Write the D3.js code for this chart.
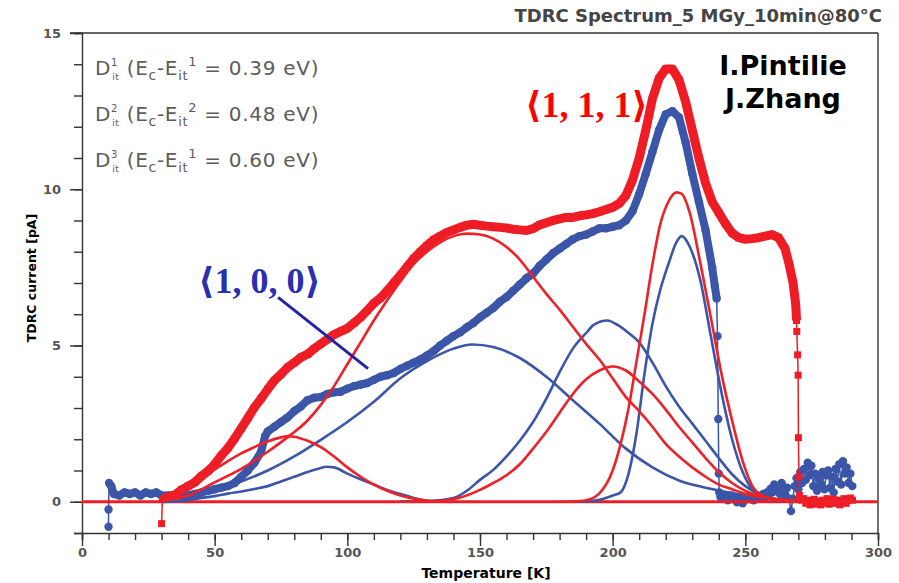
<!DOCTYPE html>
<html>
<head>
<meta charset="UTF-8">
<title>TDRC Spectrum</title>
<script src="https://cdn.jsdelivr.net/npm/d3@7"></script>
<style>
  body {margin: 0; background: #fff;}
  .axis text {font-family: "DejaVu Sans", sans-serif; font-weight: bold; font-size: 13px; fill: #555;}
  .axis line, .axis .domain {stroke: #333; stroke-width: 1.4;}
</style>
</head>
<body>
<div id="chart"></div>
<script>
//Measured TDRC spectrum, <1,1,1> sample (red squares)
var redT = [30, 30.3, 32.5, 35, 37.5, 40, 42.5, 45, 47.5, 50, 52.5, 55, 57.5, 60, 62.5, 65, 67.5, 70, 72.5, 75, 77.5, 80, 82.5, 85, 87.5, 90, 92.5, 95, 97.5, 100,
  102.5, 105, 107.5, 110, 112.5, 115, 117.5, 120, 122.5, 125, 127.5, 130, 132.5, 135, 137.5, 140, 142.5, 145, 147.5, 150, 152.5, 155, 157.5, 160, 162.5, 165, 167.5, 170,
  172.5, 175, 177.5, 180, 182.5, 185, 187.5, 190, 192.5, 195, 197.5, 200, 202.5, 205, 207.5, 210, 212.5, 215, 217.5, 220, 222.5, 225, 227.5, 230, 232.5, 235, 237.5, 240,
  242.5, 245, 247.5, 250, 252.5, 255, 257.5, 260, 262.5, 265, 266.5, 268, 269, 269.3,
  269.4, 269.7, 269.9, 270, 270.2, 270.4, 271.2, 272, 272.8, 273.6, 274.4, 275.2, 276, 276.8, 277.6, 278.4, 279.2, 280, 280.8, 281.6, 282.4, 283.2, 284, 284.8, 285.6, 286.4, 287.2, 288, 288.8, 289.6, 290.4];
var redI = [-0.7, 0.08, 0.15, 0.22, 0.38, 0.5, 0.62, 0.82, 0.98, 1.2, 1.48, 1.72, 2.02, 2.35, 2.68, 3.02, 3.3, 3.6, 3.88, 4.08, 4.3, 4.45, 4.62, 4.72, 4.9, 5.05, 5.2, 5.35, 5.45, 5.55,
  5.72, 5.9, 6.12, 6.35, 6.52, 6.75, 7.0, 7.25, 7.52, 7.78, 8.0, 8.2, 8.38, 8.5, 8.62, 8.7, 8.78, 8.85, 8.88, 8.85, 8.82, 8.8, 8.78, 8.76, 8.72, 8.7, 8.68, 8.74,
  8.86, 8.93, 9.0, 9.05, 9.1, 9.1, 9.15, 9.18, 9.22, 9.28, 9.35, 9.42, 9.55, 9.8, 10.3, 11.0, 11.9, 12.9, 13.55, 13.85, 13.85, 13.5, 12.8, 11.9, 11.0, 10.2, 9.6, 9.25,
  8.9, 8.6, 8.45, 8.4, 8.42, 8.45, 8.5, 8.55, 8.45, 8.1, 7.6, 7.0, 6.3, 5.8,
  5.45, 4.7, 4.05, 2.05, 0.8, 0.2, 0.05, 0.1, -0.05, 0.05, -0.1, 0.0, 0.08, -0.08, 0.02, -0.1, 0.05, -0.05, 0.1, -0.08, 0.0, 0.08, -0.05, 0.05, -0.1, 0.02, 0.1, -0.05, 0.05, 0.12, 0.05];
//index range of the densely sampled part of the red curve
var redDense = [1, 99];

//Measured TDRC spectrum, <1,0,0> sample (blue circles)
var blueT = [10, 10, 10.2, 11, 12, 14, 16, 18, 20, 22, 24, 26, 28, 30, 32.5, 35, 37.5, 40, 42.5, 45, 47.5, 50, 52.5, 55, 57.5, 60, 62.5, 65, 67.5, 69, 70, 72.5, 75, 77.5, 80,
  82.5, 85, 87.5, 90, 92.5, 95, 97.5, 100, 102.5, 105, 107.5, 110, 112.5, 115, 117.5, 120, 122.5, 125, 127.5, 130, 132.5, 135, 137.5, 140, 142.5, 145, 147.5, 150,
  152.5, 155, 157.5, 160, 162.5, 165, 167.5, 170, 172.5, 175, 177.5, 180, 182.5, 185, 187.5, 190, 192.5, 195, 197.5, 200, 202.5, 205, 207.5, 210, 212.5, 215, 217.5,
  220, 222.5, 225, 227.5, 230, 232.5, 235, 237.5, 238.5, 239.2,
  239.5, 239.8, 240, 240.2, 240.6, 241.3, 242, 242.7, 243.4, 244.1, 244.8, 245.5, 246.2, 246.9, 247.6, 248.3, 249, 249.7, 250.4, 251.1, 251.8, 252.5, 253.2, 253.9,
  254.6, 255.3, 256, 256.7, 257.4, 258.1, 258.8, 259.5, 260.2, 260.9, 261.6, 262.3, 263, 263.7, 264.4, 265.1, 265.8, 266.5, 267.2, 267.9, 268.6, 269.3, 270, 270.7,
  271.4, 272.1, 272.8, 273.5, 274.2, 274.9, 275.6, 276.3, 277, 277.7, 278.4, 279.1, 279.8, 280.5, 281.2, 281.9, 282.6, 283.3, 284, 284.7, 285.4, 286.1, 286.8, 287.5,
  288.2, 288.9, 289.6, 290.3];
var blueI = [-0.8, -0.25, 0.6, 0.5, 0.25, 0.2, 0.3, 0.25, 0.3, 0.2, 0.3, 0.25, 0.3, 0.2, 0.2, 0.2, 0.22, 0.2, 0.25, 0.3, 0.35, 0.4, 0.45, 0.5, 0.6, 0.8, 1.0, 1.25, 1.6, 2.1, 2.25, 2.4, 2.55, 2.7, 2.9,
  3.05, 3.25, 3.33, 3.35, 3.45, 3.5, 3.52, 3.62, 3.7, 3.75, 3.8, 3.9, 4.0, 4.05, 4.12, 4.25, 4.35, 4.45, 4.55, 4.68, 4.82, 5.0, 5.15, 5.3, 5.42, 5.58, 5.72, 5.9,
  6.05, 6.2, 6.4, 6.55, 6.75, 6.95, 7.15, 7.3, 7.55, 7.75, 7.95, 8.1, 8.25, 8.4, 8.5, 8.55, 8.65, 8.75, 8.75, 8.8, 8.85, 9.0, 9.3, 9.85, 10.5, 11.2, 11.9,
  12.4, 12.5, 12.3, 11.5, 10.5, 9.6, 8.7, 7.5, 6.9, 6.5,
  5.3, 2.65, 0.9, 0.3, 0.15, 0.2, 0.1, 0.18, 0.05, 0.15, 0.2, 0.08, 0.12, -0.02, 0.1, 0.15, -0.05, 0.05, 0.12, 0.18, 0.08, 0.15, 0.05, 0.12,
  0.2, 0.1, 0.18, 0.25, 0.12, 0.3, 0.2, 0.42, 0.3, 0.55, 0.35, 0.48, 0.25, 0.6, 0.4, 0.2, 0.45, 0.1, -0.3, 0.1, 0.5, 0.75, 0.4, 0.95,
  0.6, 1.05, 0.7, 1.25, 0.85, 1.15, 0.5, 0.9, 0.35, 0.75, 0.55, 0.95, 0.4, 0.85, 1.0, 0.45, 0.8, 0.3, 1.05, 0.65, 1.2, 0.55, 1.3, 0.9,
  1.1, 0.6, 0.9, 0.5];
var blueDense = [2, 99];

//Fitted trap components for <1,1,1> (thin red lines)
var red1T = [30, 35, 40, 45, 50, 55, 60, 65, 70, 75, 78, 80, 85, 90, 95, 100, 105, 110, 115, 120, 125, 130, 135, 140];
var red1I = [0.05, 0.2, 0.45, 0.75, 1.03, 1.3, 1.55, 1.75, 1.93, 2.06, 2.1, 2.08, 1.95, 1.75, 1.45, 1.1, 0.8, 0.55, 0.35, 0.2, 0.1, 0.03, 0, 0];
var red2T = [30, 40, 50, 60, 70, 78, 85, 90, 95, 100, 105, 110, 115, 120, 125, 130, 135, 140, 145, 150, 155, 160, 165, 170, 175, 180, 185, 190, 195, 200, 205, 210, 215, 220, 225, 230, 235, 240, 245, 250, 260, 270, 290];
var red2I = [0.02, 0.2, 0.62, 1.05, 1.6, 2.1, 2.6, 3.1, 3.7, 4.4, 5.1, 5.8, 6.45, 7.05, 7.6, 8.0, 8.3, 8.5, 8.58, 8.55, 8.42, 8.15, 7.75, 7.2, 6.65, 6.15, 5.6, 5.05, 4.55, 3.95, 3.35, 2.9, 2.4, 1.85, 1.45, 1.1, 0.8, 0.55, 0.4, 0.25, 0.1, 0.03, 0];
var red3T = [120, 130, 140, 150, 155, 160, 165, 170, 175, 180, 185, 190, 195, 200, 205, 210, 215, 220, 225, 230, 235, 240, 245, 250, 255, 260, 270, 290];
var red3I = [0, 0.01, 0.08, 0.38, 0.6, 0.85, 1.2, 1.7, 2.24, 2.85, 3.45, 3.92, 4.2, 4.33, 4.2, 3.85, 3.45, 2.95, 2.4, 1.9, 1.4, 0.95, 0.6, 0.35, 0.2, 0.1, 0.03, 0];
var red4T = [180, 185, 190, 195, 200, 203, 206, 209, 212, 215, 218, 221, 224, 226, 229, 233, 237, 241, 245, 249, 253, 257, 262, 270, 290];
var red4I = [0, 0.01, 0.05, 0.27, 1.0, 1.85, 3.0, 4.5, 6.0, 7.6, 8.9, 9.6, 9.9, 9.85, 9.26, 7.66, 5.9, 4.1, 2.6, 1.3, 0.45, 0.17, 0.05, 0, 0];

//Fitted trap components for <1,0,0> (thin blue lines)
var blue1T = [30, 35, 40, 45, 50, 55, 60, 65, 70, 75, 80, 85, 90, 92, 95, 100, 105, 110, 115, 120, 125, 130, 135, 140];
var blue1I = [0, 0.02, 0.06, 0.12, 0.18, 0.26, 0.33, 0.41, 0.5, 0.65, 0.8, 0.95, 1.08, 1.12, 1.1, 0.9, 0.72, 0.55, 0.38, 0.25, 0.12, 0.03, 0, 0];
var blue2T = [30, 40, 50, 60, 70, 80, 90, 100, 110, 120, 130, 140, 147, 155, 165, 175, 185, 195, 205, 215, 225, 235, 245, 255, 265, 280];
var blue2I = [0, 0.06, 0.38, 0.65, 1.0, 1.45, 1.98, 2.55, 3.2, 3.95, 4.5, 4.9, 5.03, 4.95, 4.6, 4.0, 3.25, 2.5, 1.7, 1.1, 0.68, 0.45, 0.28, 0.14, 0.05, 0];
var blue3T = [120, 130, 140, 145, 150, 155, 160, 165, 170, 175, 180, 185, 190, 193, 198, 202, 206, 210, 215, 220, 225, 230, 235, 240, 245, 250, 255, 260, 270, 290];
var blue3I = [0, 0.02, 0.12, 0.35, 0.7, 1.02, 1.45, 1.95, 2.55, 3.3, 4.15, 4.9, 5.4, 5.67, 5.8, 5.65, 5.4, 5.1, 4.45, 3.7, 3.05, 2.5, 1.95, 1.4, 0.88, 0.5, 0.25, 0.1, 0.03, 0];
var blue4T = [185, 190, 195, 200, 203, 206, 209, 212, 215, 218, 221, 224, 226, 229, 233, 237, 241, 245, 249, 253, 257, 262, 270];
var blue4I = [0, 0.01, 0.06, 0.2, 0.3, 0.9, 2.2, 4.1, 5.7, 6.8, 7.6, 8.3, 8.5, 8.17, 7.1, 5.3, 3.5, 2.0, 0.95, 0.35, 0.15, 0.04, 0];

//Axis tick values and text
var xTicks = [0, 50, 100, 150, 200, 250, 300];
var yTicks = [0, 5, 10, 15];
var trapLabels = ["1", "2", "3"];
var trapLevels = ["1", "2", "1"];
var trapEnergies = ["0.39", "0.48", "0.60"];

var width = 899, height = 583;
var margin = {top: 33, right: 21, bottom: 50, left: 82};

var svg = d3.select("#chart").append("svg")
  .attr("width", width)
  .attr("height", height);

//Set scales
var x = d3.scaleLinear().domain([0, 300]).range([margin.left, width - margin.right]);
var y = d3.scaleLinear().domain([-1, 15]).range([height - margin.bottom, margin.top]);

//Frame lines on top and right
svg.append("line").attr("x1", x(0) - 12).attr("x2", x(300)).attr("y1", y(15)).attr("y2", y(15))
  .attr("stroke", "#333").attr("stroke-width", 1.4);
svg.append("line").attr("x1", x(300)).attr("x2", x(300)).attr("y1", y(15)).attr("y2", y(-1))
  .attr("stroke", "#333").attr("stroke-width", 1.4);

//Minor and major ticks of y axis
svg.append("g").attr("class", "axis")
  .attr("transform", "translate(" + x(0) + ",0)")
  .call(d3.axisLeft(y).tickValues(d3.range(-1, 16)).tickSize(8).tickFormat(""));
svg.append("g").attr("class", "axis")
  .attr("transform", "translate(" + x(0) + ",0)")
  .call(d3.axisLeft(y).tickValues(yTicks).tickSize(12).tickPadding(9))
  .call(g => g.select(".domain").remove());

//Minor and major ticks of x axis
svg.append("g").attr("class", "axis")
  .attr("transform", "translate(0," + y(-1) + ")")
  .call(d3.axisBottom(x).tickValues(d3.range(0, 301, 10)).tickSize(7).tickFormat(""));
svg.append("g").attr("class", "axis")
  .attr("transform", "translate(0," + y(-1) + ")")
  .call(d3.axisBottom(x).tickValues(xTicks).tickSize(13).tickPadding(2))
  .call(g => g.select(".domain").remove());

//Axis titles
svg.append("text")
  .attr("x", 486).attr("y", 578)
  .attr("text-anchor", "middle")
  .style("font-family", "DejaVu Sans").style("font-weight", "bold").style("font-size", "14px")
  .text("Temperature [K]");
svg.append("text")
  .attr("transform", "translate(36,278) rotate(-90)")
  .attr("text-anchor", "middle")
  .style("font-family", "DejaVu Sans").style("font-weight", "bold").style("font-size", "12.5px")
  .text("TDRC current [pA]");

//Title
svg.append("text")
  .attr("x", 882).attr("y", 22)
  .attr("text-anchor", "end")
  .attr("fill", "#444")
  .style("font-family", "DejaVu Sans").style("font-weight", "bold").style("font-size", "18px")
  .text("TDRC Spectrum_5 MGy_10min@80\u00B0C");

//Line generators
var thin = d3.line().x(d => x(d[0])).y(d => y(d[1]));
var smooth = d3.line().x(d => x(d[0])).y(d => y(d[1])).curve(d3.curveMonotoneX);

var bluePts = d3.zip(blueT, blueI);
var redPts = d3.zip(redT, redI);

//Blue measured curve: thin joining line, dense band and circles
svg.append("path").attr("d", thin(bluePts))
  .attr("fill", "none").attr("stroke", "#3b55a8").attr("stroke-width", 1.5);
svg.append("path").attr("d", thin(bluePts.slice(blueDense[0], blueDense[1] + 1)))
  .attr("fill", "none").attr("stroke", "#3b55a8").attr("stroke-width", 8).attr("stroke-linejoin", "round");
svg.append("g").selectAll("circle").data(bluePts).enter().append("circle")
  .attr("cx", d => x(d[0])).attr("cy", d => y(d[1])).attr("r", 4.2)
  .attr("fill", "#3b55a8");

//Red baseline at zero
svg.append("line")
  .attr("x1", x(0)).attr("x2", x(300)).attr("y1", y(0)).attr("y2", y(0))
  .attr("stroke", "#ee1c25").attr("stroke-width", 3);

//Red measured curve: thin joining line, dense band and squares
svg.append("path").attr("d", thin(redPts))
  .attr("fill", "none").attr("stroke", "#ee1c25").attr("stroke-width", 1.5);
svg.append("path").attr("d", thin(redPts.slice(redDense[0], redDense[1] + 1)))
  .attr("fill", "none").attr("stroke", "#ee1c25").attr("stroke-width", 9).attr("stroke-linejoin", "round");
svg.append("g").selectAll("rect").data(redPts).enter().append("rect")
  .attr("x", d => x(d[0]) - 3.5).attr("y", d => y(d[1]) - 3.5)
  .attr("width", 7).attr("height", 7)
  .attr("fill", "#ee1c25");

//Fitted components
var fits = [
  [blue1T, blue1I, "#3b55a8"], [blue2T, blue2I, "#3b55a8"], [blue3T, blue3I, "#3b55a8"], [blue4T, blue4I, "#3b55a8"],
  [red1T, red1I, "#ee2128"], [red2T, red2I, "#ee2128"], [red3T, red3I, "#ee2128"], [red4T, red4I, "#ee2128"]
];
fits.forEach(function(f) {
  svg.append("path").attr("d", smooth(d3.zip(f[0], f[1])))
    .attr("fill", "none").attr("stroke", f[2]).attr("stroke-width", 2.6);
});

//Trap legend in the upper left corner
var legend = svg.append("g")
  .style("font-family", "DejaVu Sans")
  .attr("fill", "#5c5c5c");
trapLabels.forEach(function(lab, i) {
  var t = legend.append("text").attr("x", 95).attr("y", 75 + i * 46).style("font-size", "20px").style("letter-spacing", "0.7px");
  t.append("tspan").text("D");
  t.append("tspan").attr("dy", -9).style("font-size", "10px").text(lab);
  t.append("tspan").attr("dx", -6).attr("dy", 14).style("font-size", "9px").text("it");
  t.append("tspan").attr("dy", -5).text(" (E");
  t.append("tspan").attr("dy", 5).style("font-size", "14px").text("c");
  t.append("tspan").attr("dy", -5).text("-E");
  t.append("tspan").attr("dy", 5).style("font-size", "13px").text("it");
  t.append("tspan").attr("dy", -14).style("font-size", "13px").text(trapLevels[i]);
  t.append("tspan").attr("dy", 9).text(" = " + trapEnergies[i] + " eV)");
});

//Author names
svg.append("g")
  .style("font-family", "DejaVu Sans").style("font-weight", "bold").style("font-size", "27px")
  .selectAll("text").data(["I.Pintilie", "J.Zhang"]).enter().append("text")
  .attr("x", 783).attr("y", (d, i) => 75 + i * 33)
  .attr("text-anchor", "middle")
  .text(d => d);

//Orientation labels
svg.append("text")
  .attr("x", 525).attr("y", 117)
  .attr("fill", "#ff0000")
  .style("font-family", "Liberation Serif, DejaVu Serif, serif").style("font-weight", "bold").style("font-size", "36px")
  .text("\u27E81, 1, 1\u27E9");
svg.append("text")
  .attr("x", 198).attr("y", 293)
  .attr("fill", "#2b2fae")
  .style("font-family", "Liberation Serif, DejaVu Serif, serif").style("font-weight", "bold").style("font-size", "36px")
  .text("\u27E81, 0, 0\u27E9");
svg.append("line")
  .attr("x1", x(73.9)).attr("y1", y(6.54)).attr("x2", x(107.8)).attr("y2", y(4.26))
  .attr("stroke", "#2323a8").attr("stroke-width", 3);
</script>
</body>
</html>
